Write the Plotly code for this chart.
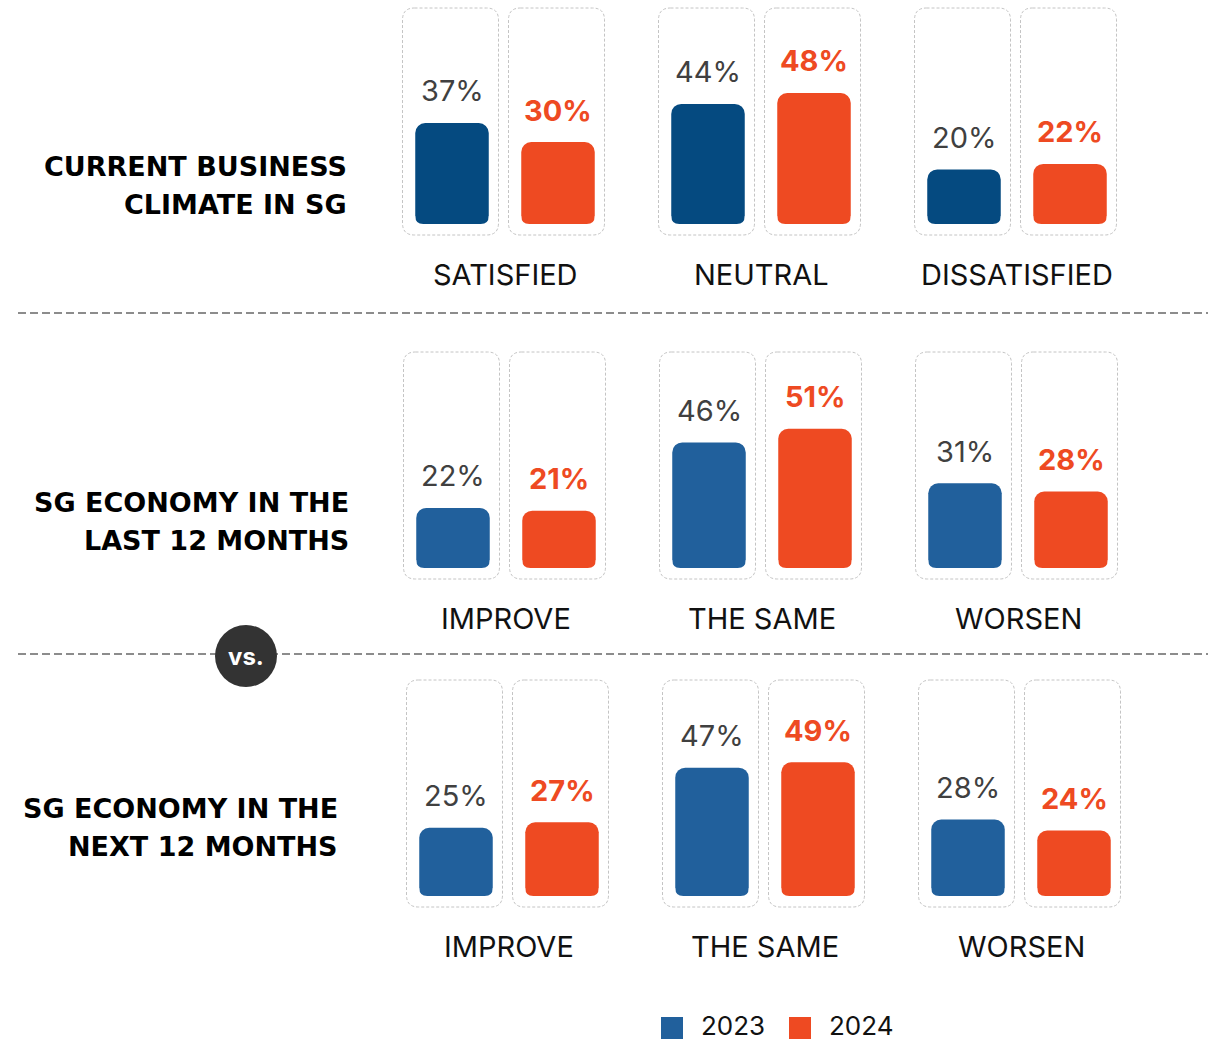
import plotly.graph_objects as go

# ---- data ----
row_titles = [["CURRENT BUSINESS", "CLIMATE IN SG"],
              ["SG ECONOMY IN THE", "LAST 12 MONTHS"],
              ["SG ECONOMY IN THE", "NEXT 12 MONTHS"]]
row_categories = [["SATISFIED", "NEUTRAL", "DISSATISFIED"],
                  ["IMPROVE", "THE SAME", "WORSEN"],
                  ["IMPROVE", "THE SAME", "WORSEN"]]
values_2023 = [[37, 44, 20], [22, 46, 31], [25, 47, 28]]
values_2024 = [[30, 48, 22], [21, 51, 28], [27, 49, 24]]
years = ["2023", "2024"]

# ---- styling / layout constants ----
W, H = 1218, 1040
PX_PER_PCT = 2.73          # vertical scale of every row
PX_PER_GROUP = 256         # horizontal distance between groups
row_baseline_px = [224, 568, 896]
row_group0_px = [505, 506, 509]
title_right_px = [349, 351, 340]
title_mid_px = [186, 521, 827]
TITLE_LINE_GAP = 38
blue_by_row = ["#054a80", "#21609c", "#21609c"]
ORANGE = "#ee4a22"
FONT = "Inter"
TITLE_FONT = "DejaVu Sans"
BAR_W_PX = 73.5
BAR_W = BAR_W_PX / PX_PER_GROUP
BAR_OFF = 53 / PX_PER_GROUP
TOP_RADIUS = 10
BOTTOM_RADIUS = 8

fig = go.Figure()
shapes = []
annotations = []


def px_to_paper_x(px):
    return px / W


def px_to_paper_y(px):
    return 1 - px / H


for r in range(3):
    sfx = "" if r == 0 else str(r + 1)
    xa, ya = "x" + sfx, "y" + sfx
    groups = list(range(len(row_categories[r])))
    for yi, (vals, color, off) in enumerate([
            (values_2023[r], blue_by_row[r], -BAR_OFF),
            (values_2024[r], ORANGE, BAR_OFF)]):
        xs = [g + off for g in groups]
        fig.add_trace(go.Bar(
            x=xs, y=vals, width=BAR_W,
            marker=dict(color=color, cornerradius=TOP_RADIUS, line_width=0),
            name=years[yi], xaxis=xa, yaxis=ya, hoverinfo="skip", showlegend=False))
        # value labels
        for x, v in zip(xs, vals):
            annotations.append(dict(
                x=x, y=v, xref=xa, yref=ya, text=f"{v}%", showarrow=False,
                yshift=32, yanchor="middle", xanchor="center",
                font=dict(family=FONT, size=29,
                          color="#404040" if yi == 0 else ORANGE,
                          weight="normal" if yi == 0 else "bold")))
        # soften the foot of each bar: white slivers outside a rounded corner
        rx = BOTTOM_RADIUS / PX_PER_GROUP
        ry = BOTTOM_RADIUS / PX_PER_PCT
        ex = 1 / PX_PER_GROUP
        ey = 1 / PX_PER_PCT
        for x in xs:
            xl, xr = x - BAR_W / 2, x + BAR_W / 2
            for cx, sx in [(xl, 1), (xr, -1)]:
                path = (f"M {cx - sx * ex},{-ey} L {cx + sx * rx},{-ey} L {cx + sx * rx},0 "
                        f"Q {cx},0 {cx},{ry} L {cx - sx * ex},{ry} Z")
                shapes.append(dict(type="path", path=path, xref=xa, yref=ya,
                                   fillcolor="white", line=dict(width=0), layer="above"))
        # dashed containers around each bar
        half_w = 48 / PX_PER_GROUP
        top = 216 / PX_PER_PCT
        bot = -11 / PX_PER_PCT
        crx = 12 / PX_PER_GROUP
        cry = 12 / PX_PER_PCT
        for x in xs:
            cx = x - 1.5 / PX_PER_GROUP
            x0, x1 = cx - half_w, cx + half_w
            path = (f"M {x0 + crx},{top} L {x1 - crx},{top} Q {x1},{top} {x1},{top - cry} "
                    f"L {x1},{bot + cry} Q {x1},{bot} {x1 - crx},{bot} "
                    f"L {x0 + crx},{bot} Q {x0},{bot} {x0},{bot + cry} "
                    f"L {x0},{top - cry} Q {x0},{top} {x0 + crx},{top} Z")
            shapes.append(dict(type="path", path=path, xref=xa, yref=ya,
                               line=dict(color="#c4c4c4", width=1, dash="3px,2px"),
                               layer="below"))
    # category labels
    for g, cat in zip(groups, row_categories[r]):
        annotations.append(dict(
            x=g, y=0, xref=xa, yref=ya, text=cat, showarrow=False,
            yshift=-50, yanchor="middle", xanchor="center",
            font=dict(family=FONT, size=29, color="#111111")))
    # row title, two right-aligned lines
    for li, line in enumerate(row_titles[r]):
        ypx = title_mid_px[r] + (li - 0.5) * TITLE_LINE_GAP
        annotations.append(dict(
            x=px_to_paper_x(title_right_px[r]), y=px_to_paper_y(ypx),
            xref="paper", yref="paper", text=line, showarrow=False,
            xanchor="right", yanchor="middle", align="right",
            font=dict(family=TITLE_FONT, size=27, color="#000000", weight="bold")))

    # axes: each row spans the whole canvas, scaled in pixels
    b = row_baseline_px[r]
    c = row_group0_px[r]
    fig.update_layout({
        ("xaxis" + sfx): dict(domain=[0, 1], range=[-c / PX_PER_GROUP, (W - c) / PX_PER_GROUP],
                             visible=False, fixedrange=True, anchor=ya),
        ("yaxis" + sfx): dict(domain=[0, 1], range=[-(H - b) / PX_PER_PCT, b / PX_PER_PCT],
                             visible=False, fixedrange=True, anchor=xa),
    })

# dashed separators
for ypx in [313, 654]:
    shapes.append(dict(type="line", xref="paper", yref="paper",
                       x0=px_to_paper_x(18), x1=px_to_paper_x(1208),
                       y0=px_to_paper_y(ypx), y1=px_to_paper_y(ypx),
                       line=dict(color="#8c8c8c", width=2, dash="8px,4px")))

# "vs." badge
shapes.append(dict(type="circle", xref="paper", yref="paper",
                   x0=px_to_paper_x(215), x1=px_to_paper_x(277),
                   y0=px_to_paper_y(625), y1=px_to_paper_y(687),
                   fillcolor="#333333", line=dict(width=0)))
annotations.append(dict(x=px_to_paper_x(246), y=px_to_paper_y(656), xref="paper", yref="paper",
                        text="vs.", showarrow=False, xanchor="center", yanchor="middle",
                        font=dict(family=FONT, size=24, color="#ffffff", weight="bold")))

# legend
legend_colors = ["#21609c", ORANGE]
legend_left_px = [661, 789]
for name, col, lx in zip(years, legend_colors, legend_left_px):
    shapes.append(dict(type="rect", xref="paper", yref="paper",
                       x0=px_to_paper_x(lx), x1=px_to_paper_x(lx + 22),
                       y0=px_to_paper_y(1017), y1=px_to_paper_y(1039),
                       fillcolor=col, line=dict(width=0)))
    annotations.append(dict(x=px_to_paper_x(lx + 38), y=px_to_paper_y(1025),
                            xref="paper", yref="paper", text=name, showarrow=False,
                            xanchor="left", yanchor="middle", height=30, valign="middle",
                            font=dict(family=FONT, size=26, color="#111111")))

fig.update_layout(
    width=W, height=H, margin=dict(l=0, r=0, t=0, b=0),
    paper_bgcolor="white", plot_bgcolor="rgba(0,0,0,0)",
    barmode="overlay", showlegend=False,
    shapes=shapes, annotations=annotations,
)

fig.write_html("out.html")
